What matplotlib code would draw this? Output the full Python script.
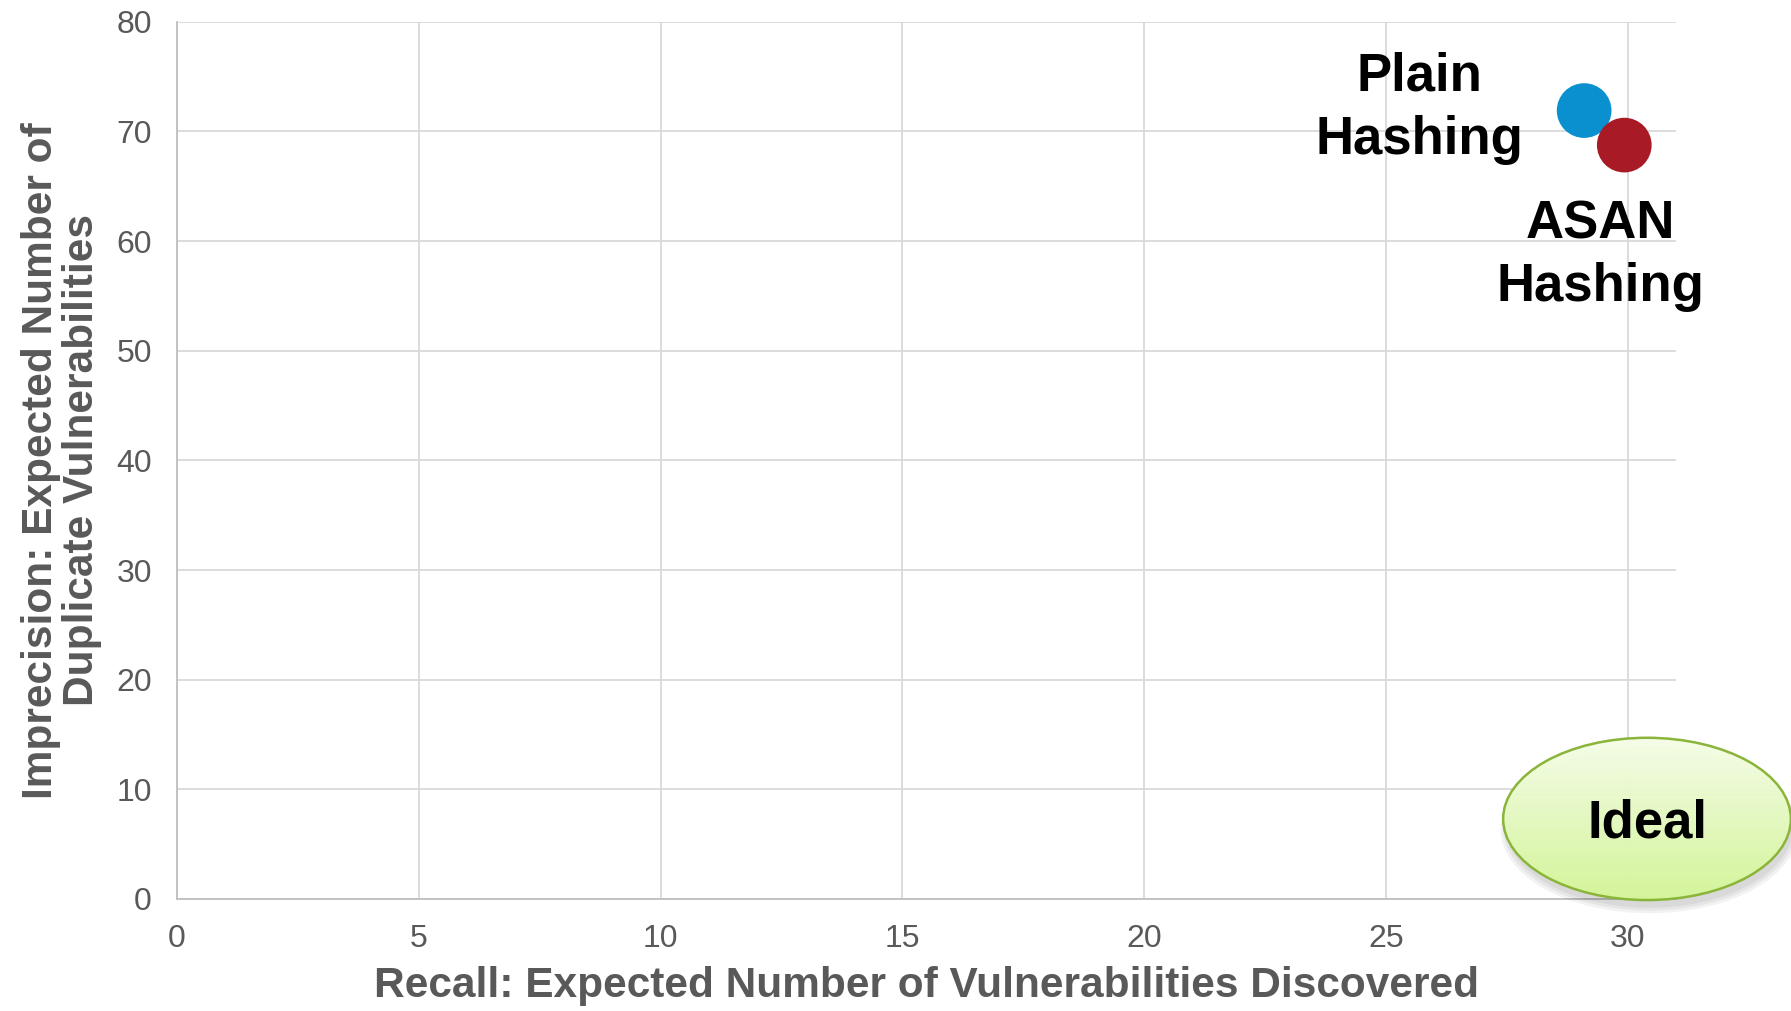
import matplotlib
matplotlib.use("Agg")
import matplotlib.pyplot as plt
import numpy as np
from matplotlib.patches import Ellipse, Polygon

plt.rcParams['font.family'] = ['Liberation Sans', 'DejaVu Sans']

# hashing schemes: recall vs imprecision
names = ["Plain\nHashing", "ASAN\nHashing"]
recall = [29.1, 29.93]
imprecision = [71.9, 68.75]
colors = ["#0a8fcf", "#a71a26"]

xticks = [0, 5, 10, 15, 20, 25, 30]
yticks = [0, 10, 20, 30, 40, 50, 60, 70, 80]

# where the "Ideal" region sits
ideal_center = (30.4, 7.3)
ideal_w, ideal_h = 5.95, 14.8

fig = plt.figure(figsize=(17.91, 10.11), dpi=100)
ax = fig.add_axes([0.0988, 0.1108, 0.837, 0.8677])

ax.set_xlim(0, 31)
ax.set_ylim(0, 80)
ax.set_xticks(xticks)
ax.set_yticks(yticks)
ax.grid(True, color="#d9d9d9", linewidth=1.3)
ax.set_axisbelow(True)
for s in ["top", "right"]:
    ax.spines[s].set_visible(False)
for s in ["left", "bottom"]:
    ax.spines[s].set_color("#bfbfbf")
    ax.spines[s].set_linewidth(1.3)
ax.tick_params(length=0, labelsize=23, labelcolor="#595959")
ax.tick_params(axis="x", pad=18)
ax.tick_params(axis="y", pad=18)

ax.set_xlabel("Recall: Expected Number of Vulnerabilities Discovered",
              fontsize=30.5, fontweight="bold", color="#595959", labelpad=9)
ax.set_ylabel("Imprecision: Expected Number of\nDuplicate Vulnerabilities",
              fontsize=30.5, fontweight="bold", color="#595959", labelpad=10,
              linespacing=1.05)

ax.scatter(recall, imprecision, s=1550, c=colors, zorder=5, linewidths=0)

ax.text(recall[0] - 3.4, imprecision[0] + 0.2, names[0], ha="center", va="center",
        fontsize=38, fontweight="bold", linespacing=1.33, zorder=6)
ax.text(recall[1] - 0.5, imprecision[1] - 10.1, names[1], ha="center", va="center",
        fontsize=38, fontweight="bold", linespacing=1.33, zorder=6)

# soft shadow under the ideal ellipse
for i in range(3):
    sh = Ellipse((ideal_center[0] + 0.05, ideal_center[1] - 0.7 - 0.15 * i),
                 ideal_w + 0.1 * i, ideal_h + 0.2 * i,
                 facecolor="black", edgecolor="none", alpha=0.05,
                 clip_on=False, zorder=6)
    ax.add_patch(sh)

# gradient fill: stack thin horizontal slices of the ellipse
cx, cy = ideal_center
a, b = ideal_w / 2, ideal_h / 2
top = np.array([0.96, 0.99, 0.91])
bot = np.array([0.83, 0.96, 0.60])
n = 120
edges = np.linspace(cy + b, cy - b, n + 1)
for k in range(n):
    ys = np.linspace(edges[k], edges[k + 1], 6)
    half = a * np.sqrt(np.clip(1 - ((ys - cy) / b) ** 2, 0, 1))
    pts = np.concatenate([np.column_stack([cx - half, ys]),
                          np.column_stack([cx + half, ys])[::-1]])
    t = (k + 0.5) / n
    col = top * (1 - t) + bot * t
    ax.add_patch(Polygon(pts, closed=True, facecolor=col, edgecolor=col,
                         linewidth=0.6, clip_on=False, zorder=7))

ell = Ellipse(ideal_center, ideal_w, ideal_h, facecolor="none",
              edgecolor="#8ab53a", linewidth=1.8, clip_on=False, zorder=8)
ax.add_patch(ell)

ax.text(cx, cy - 0.4, "Ideal", ha="center", va="center",
        fontsize=38, fontweight="bold", zorder=9)

fig.savefig("out.png", dpi=100)
